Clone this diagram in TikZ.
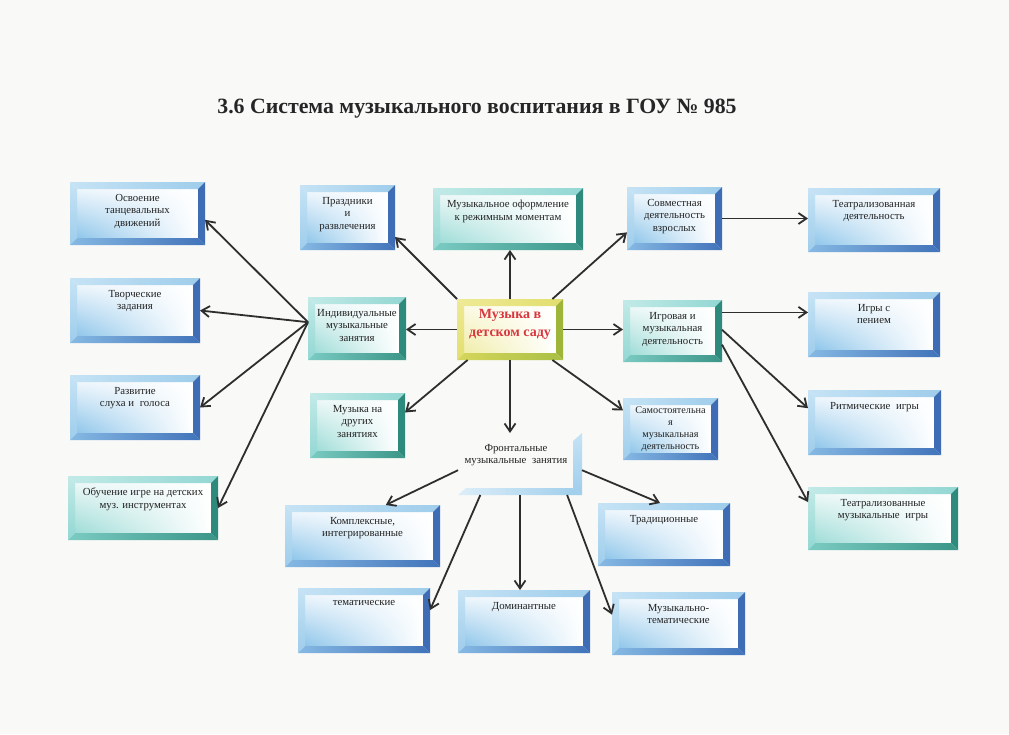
\documentclass[tikz,border=0pt]{standalone}
\usepackage{fontspec}
\setmainfont{Liberation Serif}
\usetikzlibrary{fit,calc,arrows.meta,shadings}
% blue scheme
\definecolor{BT}{HTML}{9ECDEB}\definecolor{BL}{HTML}{C6E3F5}\definecolor{BR}{HTML}{3E6DB5}
\definecolor{BB1}{HTML}{86B9E3}\definecolor{BB2}{HTML}{4173BA}
\definecolor{BI1}{HTML}{EEF6FC}\definecolor{BI2}{HTML}{8FC6EA}
% teal scheme
\definecolor{TT}{HTML}{93D7D3}\definecolor{TL}{HTML}{C2EAE7}\definecolor{TR}{HTML}{2E8A7D}
\definecolor{TB1}{HTML}{7BCBC3}\definecolor{TB2}{HTML}{3A9587}
\definecolor{TI1}{HTML}{ECF8F7}\definecolor{TI2}{HTML}{9EDCD7}
% yellow scheme
\definecolor{YT}{HTML}{E2DE6E}\definecolor{YL}{HTML}{EEEA96}\definecolor{YR}{HTML}{9EB53A}
\definecolor{YB1}{HTML}{D6D65C}\definecolor{YB2}{HTML}{AABF45}
\definecolor{YI1}{HTML}{FBFAE6}\definecolor{YI2}{HTML}{F0EDA8}
\definecolor{bgc}{HTML}{F9F9F7}
\definecolor{txtc}{HTML}{222222}
\definecolor{redt}{HTML}{D9363E}
\definecolor{arrc}{HTML}{2E2E2E}
\newcommand\bevbox[2]{%
  \coordinate (#1-a) at ($(#1.north west)+(7,7)$);
  \coordinate (#1-b) at ($(#1.north east)+(-7,7)$);
  \coordinate (#1-c) at ($(#1.south east)+(-7,-7)$);
  \coordinate (#1-d) at ($(#1.south west)+(7,-7)$);
  \shade[upper left=#2I1, upper right=white, lower left=#2I2, lower right=white] (#1-a) rectangle (#1-c);
  \shade[left color=#2L, right color=#2T] (#1.north west) -- (#1.north east) -- (#1-b) -- (#1-a) -- cycle;
  \shade[top color=#2L, bottom color=#2T] (#1.north west) -- (#1-a) -- (#1-d) -- (#1.south west) -- cycle;
  \fill[#2R] (#1.north east) -- (#1.south east) -- (#1-c) -- (#1-b) -- cycle;
  \shade[left color=#2B1, right color=#2B2] (#1.south west) -- (#1-d) -- (#1-c) -- (#1.south east) -- cycle;
}
\newcommand\bx[7]{%
  \node[fitbox, fit={(#2,#3)(#4,#5)}] (#1) {};
  \bevbox{#1}{#6}
  \node[txt, anchor=north] (#1-t) at ($(#1.north)+(0,12)$) {#7};
}
\tikzset{
  fitbox/.style={inner sep=0pt, outer sep=0pt},
  txt/.style={inner sep=0pt, align=center, text=txtc, font=\fontsize{10.8}{12.6}\selectfont},
  arr/.style={draw=arrc, line width=1.8pt, -{Straight Barb[length=8pt,width=11pt,line width=1.8pt]}},
}
\begin{document}
\begin{tikzpicture}[x=1pt,y=-1pt]
\fill[bgc] (0,0) rectangle (1009,734);
\useasboundingbox (0,0) rectangle (1009,734);

\node[inner sep=0pt, font=\bfseries\fontsize{21.8}{26}\selectfont, text=black!85] (title) at (477,109) {3.6 Система музыкального воспитания в ГОУ №~985};

% left column
\bx{osv}{70}{182}{205}{245}{B}{Освоение\\танцевальных\\движений}
\bx{tvo}{70}{278}{200}{343}{B}{Творческие\\задания}
\bx{raz}{70}{375}{200}{440}{B}{Развитие\\слуха и\hspace{3pt} голоса}
\bx{obu}{68}{476}{218}{540}{T}{Обучение игре на детских\\муз. инструментах}
% second column
\bx{pr}{300}{185}{395}{250}{B}{Праздники\\и\\развлечения}
\bx{ind}{308}{297}{406}{360}{T}{Индивидуальные\\музыкальные\\занятия}
\bx{mdz}{310}{393}{405}{458}{T}{Музыка на\\других\\занятиях}
% top middle
\bx{mo}{433}{188}{583}{250}{T}{Музыкальное оформление\\к режимным моментам}
% center
\node[fitbox, fit={(457,299)(563,360)}] (ctr) {};
\bevbox{ctr}{Y}
\node[inner sep=0pt, align=center, text=redt, font=\bfseries\fontsize{14}{18}\selectfont] (ctr-t) at ($(ctr.center)+(0,-5)$) {Музыка в\\детском саду};
% right-middle column
\bx{sov}{627}{187}{722}{250}{B}{Совместная\\деятельность\\взрослых}
\bx{igr}{623}{300}{722}{362}{T}{Игровая и\\музыкальная\\деятельность}
\node[fitbox, fit={(623,398)(718,460)}] (sam) {};
\bevbox{sam}{B}
\node[txt, anchor=north, font=\fontsize{10.2}{12}\selectfont] (sam-t) at ($(sam.north)+(0,9)$) {Самостоятельна\\я\\музыкальная\\деятельность};
% right column
\bx{tea}{808}{188}{940}{252}{B}{Театрализованная\\деятельность}
\bx{igp}{808}{292}{940}{357}{B}{Игры с\\пением}
\bx{rit}{808}{390}{941}{455}{B}{Ритмические\hspace{3pt} игры}
\bx{tmi}{808}{487}{958}{550}{T}{Театрализованные\\музыкальные\hspace{3pt} игры}
% frontal
\node[fitbox, fit={(458,433)(582,495)}] (fr) {};
\shade[top color=BL, bottom color=BT] (fr.north east) -- (fr.south east) -- ($(fr.south east)+(-9,-7)$) -- ($(fr.north east)+(-9,8)$) -- cycle;
\shade[left color=BL!60!white, right color=BT] (fr.south west) -- (fr.south east) -- ($(fr.south east)+(-9,-7)$) -- ($(fr.south west)+(8,-7)$) -- cycle;
\node[txt, anchor=north, font=\fontsize{10.8}{12}\selectfont] (fr-t) at ($(fr.north)+(-4,11)$) {Фронтальные\\музыкальные\hspace{3pt} занятия};
% bottom rows
\bx{kom}{285}{505}{440}{567}{B}{Комплексные,\\интегрированные}
\bx{tra}{598}{503}{730}{566}{B}{Традиционные}
\bx{tem}{298}{588}{430}{653}{B}{тематические}
\bx{dom}{458}{590}{590}{653}{B}{Доминантные}
\bx{mut}{612}{592}{745}{655}{B}{Музыкально-\\тематические}

% connectors from center
\draw[arr] (ctr.north west) -- ($(pr.south east)!0.2!(pr.north east)$);
\draw[arr] (ctr.north) -- (ctr.north |- mo.south);
\draw[arr] ($(ctr.north west)!0.9!(ctr.north east)$) -- ($(sov.south west)!0.28!(sov.north west)$);
\draw[arr] (ctr.east) -- (ctr.east -| igr.west);
\draw[arr] (ctr.west) -- (ctr.west -| ind.east);
\draw[arr] ($(ctr.south west)!0.1!(ctr.south east)$) -- ($(mdz.north east)!0.3!(mdz.south east)$);
\draw[arr] (ctr.south) -- (ctr.south |- fr.north);
\draw[arr] ($(ctr.south west)!0.9!(ctr.south east)$) -- ($(sam.north west)!0.2!(sam.south west)$);
% from individual
\coordinate (indsrc) at ($(ind.north west)!0.4!(ind.south west)$);
\draw[arr] (indsrc) -- ($(osv.north east)!0.6!(osv.south east)$);
\draw[arr] (indsrc) -- (tvo.east);
\draw[arr] (indsrc) -- (raz.east);
\draw[arr] (indsrc) -- (obu.east);
% from joint / game
\draw[arr] (sov.east) -- (sov.east -| tea.west);
\draw[arr] ($(igr.north east)!0.2!(igr.south east)$) coordinate (ig1) -- (ig1 -| igp.west);
\draw[arr] ($(igr.north east)!0.48!(igr.south east)$) -- ($(rit.north west)!0.28!(rit.south west)$);
\draw[arr] ($(igr.north east)!0.72!(igr.south east)$) -- ($(tmi.north west)!0.24!(tmi.south west)$);
% from frontal
\draw[arr] ($(fr.north west)!0.6!(fr.south west)$) -- ($(kom.north west)!0.65!(kom.north east)$);
\draw[arr] ($(fr.north east)!0.6!(fr.south east)$) -- ($(tra.north west)!0.47!(tra.north east)$);
\draw[arr] ($(fr.south west)!0.18!(fr.south east)$) -- ($(tem.north east)!0.34!(tem.south east)$);
\draw[arr] (fr.south) -- (fr.south |- dom.north);
\draw[arr] ($(fr.south west)!0.88!(fr.south east)$) -- ($(mut.north west)!0.36!(mut.south west)$);
\end{tikzpicture}
\end{document}
